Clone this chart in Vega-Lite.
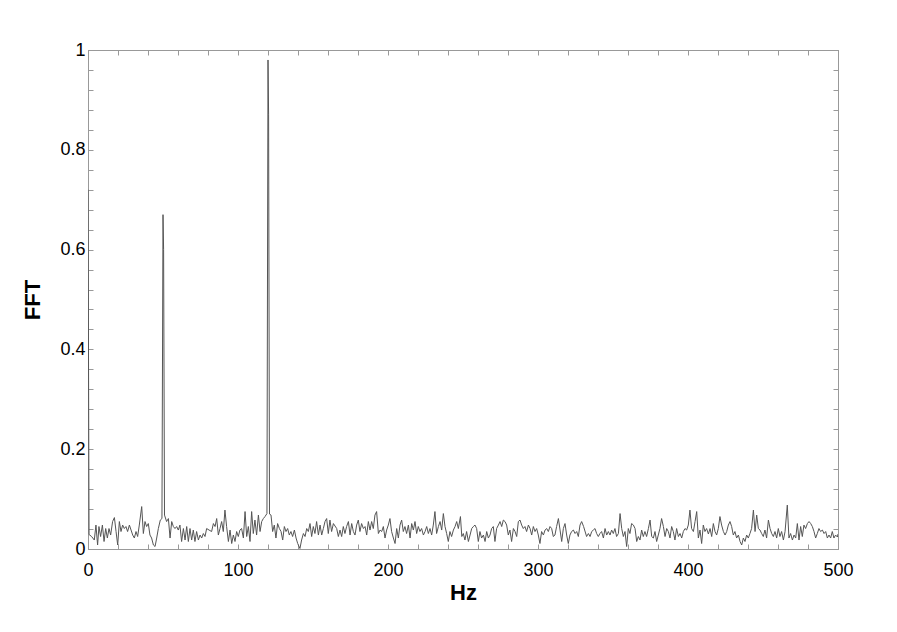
{
"$schema": "https://vega.github.io/schema/vega-lite/v6.json",
"width": 750,
"height": 499,
"autosize": "none",
"padding": {"left": 88, "top": 50, "right": 59, "bottom": 83},
"background": "white",
"config": {"view": {"stroke": "#999999", "strokeWidth": 1}, "font": "Liberation Sans"},
"data": {"values": [
{"f":0,"a":0.72},{"f":0.7,"a":0.029},{"f":2.4,"a":0.025},{"f":4.2,"a":0.018},{"f":5.3,"a":0.048},{"f":6.4,"a":0.008},{"f":7.3,"a":0.045},{"f":8.4,"a":0.025},{"f":9.6,"a":0.048},{"f":10.7,"a":0.015},{"f":11.8,"a":0.041},{"f":12.9,"a":0.022},{"f":14,"a":0.041},{"f":15.1,"a":0.028},{"f":16.4,"a":0.055},{"f":17.6,"a":0.063},{"f":18.7,"a":0.035},{"f":19.8,"a":0.008},{"f":20.9,"a":0.055},{"f":22,"a":0.035},{"f":23.1,"a":0.048},{"f":24.2,"a":0.041},{"f":25.3,"a":0.045},{"f":26.4,"a":0.035},{"f":27.6,"a":0.048},{"f":28.7,"a":0.038},{"f":29.8,"a":0.028},{"f":30.9,"a":0.022},{"f":32,"a":0.035},{"f":33.1,"a":0.025},{"f":34.2,"a":0.048},{"f":35.8,"a":0.085},{"f":36.9,"a":0.031},{"f":38,"a":0.055},{"f":39.1,"a":0.045},{"f":40.2,"a":0.051},{"f":41.3,"a":0.028},{"f":42.4,"a":0.022},{"f":43.6,"a":0.008},{"f":44.7,"a":0.005},{"f":45.8,"a":0.022},{"f":46.9,"a":0.041},{"f":48.2,"a":0.058},{"f":49.3,"a":0.061},{"f":50,"a":0.67},{"f":50.4,"a":0.6},{"f":51,"a":0.068},{"f":52.4,"a":0.055},{"f":53.6,"a":0.061},{"f":54.7,"a":0.022},{"f":55.8,"a":0.055},{"f":56.9,"a":0.045},{"f":58,"a":0.041},{"f":59.1,"a":0.045},{"f":60.2,"a":0.038},{"f":61.3,"a":0.048},{"f":62.4,"a":0.015},{"f":63.6,"a":0.041},{"f":64.7,"a":0.018},{"f":65.8,"a":0.045},{"f":66.9,"a":0.015},{"f":68,"a":0.041},{"f":69.1,"a":0.018},{"f":70.2,"a":0.038},{"f":71.3,"a":0.015},{"f":72.4,"a":0.035},{"f":73.6,"a":0.018},{"f":74.7,"a":0.028},{"f":75.8,"a":0.022},{"f":76.9,"a":0.031},{"f":78,"a":0.025},{"f":79.1,"a":0.041},{"f":80.7,"a":0.038},
{"f":82.4,"a":0.035},{"f":83.6,"a":0.051},{"f":84.7,"a":0.045},{"f":85.8,"a":0.061},{"f":86.9,"a":0.028},{"f":88,"a":0.041},{"f":89.1,"a":0.055},{"f":90.2,"a":0.035},{"f":91.3,"a":0.078},{"f":92.4,"a":0.045},{"f":93.6,"a":0.015},{"f":94.7,"a":0.038},{"f":95.8,"a":0.011},{"f":96.9,"a":0.028},{"f":98,"a":0.015},{"f":99.1,"a":0.035},{"f":100.2,"a":0.025},{"f":101.3,"a":0.038},{"f":102.4,"a":0.041},{"f":103.6,"a":0.022},{"f":104.7,"a":0.075},{"f":105.8,"a":0.025},{"f":106.9,"a":0.045},{"f":108,"a":0.015},{"f":109.1,"a":0.075},{"f":110.2,"a":0.031},{"f":111.3,"a":0.058},{"f":112.4,"a":0.028},{"f":113.6,"a":0.068},{"f":114.7,"a":0.035},{"f":115.8,"a":0.055},{"f":116.9,"a":0.061},{"f":118,"a":0.065},{"f":119.3,"a":0.071},{"f":120,"a":0.98},{"f":120.4,"a":0.87},{"f":121,"a":0.07},{"f":122,"a":0.068},{"f":123.1,"a":0.035},{"f":124.2,"a":0.048},{"f":125.3,"a":0.022},{"f":126.4,"a":0.051},{"f":127.6,"a":0.041},{"f":128.7,"a":0.035},{"f":129.8,"a":0.018},{"f":130.9,"a":0.045},{"f":132,"a":0.035},{"f":133.1,"a":0.041},{"f":134.2,"a":0.028},{"f":135.3,"a":0.035},{"f":136.4,"a":0.025},{"f":137.6,"a":0.038},{"f":138.7,"a":0.022},{"f":139.8,"a":0.011},{"f":141.3,"a":0.001},{"f":142.4,"a":0.018},{"f":143.6,"a":0.031},{"f":144.7,"a":0.025},{"f":145.8,"a":0.041},{"f":146.9,"a":0.035},{"f":148,"a":0.051},{"f":149.1,"a":0.025},{"f":150.2,"a":0.045},{"f":151.3,"a":0.031},{"f":152.4,"a":0.055},{"f":153.6,"a":0.028},{"f":154.7,"a":0.048},{"f":155.8,"a":0.028},{"f":156.9,"a":0.041},{"f":158,"a":0.055},{"f":159.1,"a":0.061},{"f":160.2,"a":0.031},{"f":161.3,"a":0.058},{"f":162.4,"a":0.035},{"f":163.6,"a":0.051},
{"f":165.8,"a":0.041},{"f":166.9,"a":0.025},{"f":168,"a":0.038},{"f":169.1,"a":0.025},{"f":170.2,"a":0.045},{"f":171.3,"a":0.031},{"f":172.4,"a":0.045},{"f":173.6,"a":0.055},{"f":174.7,"a":0.028},{"f":175.8,"a":0.051},{"f":176.9,"a":0.035},{"f":178,"a":0.028},{"f":179.1,"a":0.048},{"f":180.2,"a":0.058},{"f":181.3,"a":0.035},{"f":182.4,"a":0.051},{"f":183.6,"a":0.041},{"f":184.7,"a":0.045},{"f":185.8,"a":0.028},{"f":186.9,"a":0.055},{"f":188,"a":0.038},{"f":189.1,"a":0.055},{"f":190.2,"a":0.041},{"f":191.3,"a":0.068},{"f":192.4,"a":0.075},{"f":193.6,"a":0.031},{"f":194.7,"a":0.038},{"f":195.8,"a":0.035},{"f":196.9,"a":0.045},{"f":198,"a":0.022},{"f":199.1,"a":0.038},{"f":200.2,"a":0.048},{"f":201.3,"a":0.061},{"f":202.4,"a":0.035},{"f":203.6,"a":0.022},{"f":204.7,"a":0.011},{"f":205.8,"a":0.041},{"f":206.9,"a":0.022},{"f":208,"a":0.048},{"f":209.1,"a":0.058},{"f":210.2,"a":0.035},{"f":211.3,"a":0.045},{"f":212.4,"a":0.031},{"f":213.6,"a":0.048},{"f":214.7,"a":0.022},{"f":215.8,"a":0.051},{"f":216.9,"a":0.038},{"f":218,"a":0.055},{"f":219.1,"a":0.031},{"f":220.2,"a":0.045},{"f":221.3,"a":0.035},{"f":222.4,"a":0.041},{"f":223.6,"a":0.028},{"f":224.7,"a":0.035},{"f":225.8,"a":0.045},{"f":226.9,"a":0.031},{"f":228,"a":0.041},{"f":229.1,"a":0.028},{"f":230.2,"a":0.048},{"f":231.3,"a":0.075},{"f":232.4,"a":0.031},{"f":233.6,"a":0.045},{"f":234.7,"a":0.055},{"f":235.8,"a":0.038},{"f":236.9,"a":0.071},{"f":238,"a":0.045},{"f":239.1,"a":0.031},{"f":240.2,"a":0.015},{"f":241.3,"a":0.035},{"f":242.4,"a":0.025},{"f":243.6,"a":0.038},{"f":244.7,"a":0.045},{"f":245.8,"a":0.055},{"f":246.9,"a":0.041},
{"f":248.3,"a":0.065},{"f":249.2,"a":0.025},{"f":250.2,"a":0.031},{"f":251.3,"a":0.018},{"f":252.4,"a":0.035},{"f":253.6,"a":0.015},{"f":254.7,"a":0.028},{"f":255.8,"a":0.041},{"f":256.9,"a":0.045},{"f":258,"a":0.048},{"f":259.1,"a":0.041},{"f":260.2,"a":0.015},{"f":261.3,"a":0.035},{"f":262.4,"a":0.022},{"f":263.6,"a":0.028},{"f":264.7,"a":0.015},{"f":265.8,"a":0.035},{"f":266.9,"a":0.022},{"f":268,"a":0.028},{"f":269.1,"a":0.041},{"f":270.2,"a":0.045},{"f":271.3,"a":0.015},{"f":272.4,"a":0.041},{"f":273.6,"a":0.048},{"f":274.7,"a":0.055},{"f":275.8,"a":0.045},{"f":276.9,"a":0.058},{"f":278,"a":0.055},{"f":279.1,"a":0.048},{"f":280.2,"a":0.028},{"f":281.3,"a":0.038},{"f":282.4,"a":0.015},{"f":283.6,"a":0.041},{"f":284.7,"a":0.035},{"f":285.8,"a":0.025},{"f":286.9,"a":0.055},{"f":288,"a":0.058},{"f":289.1,"a":0.048},{"f":290.2,"a":0.041},{"f":291.3,"a":0.045},{"f":292.4,"a":0.035},{"f":293.6,"a":0.048},{"f":294.7,"a":0.041},{"f":295.8,"a":0.028},{"f":296.9,"a":0.045},{"f":298,"a":0.035},{"f":299.1,"a":0.041},{"f":300.2,"a":0.028},{"f":301.3,"a":0.011},{"f":302.4,"a":0.035},{"f":303.6,"a":0.028},{"f":304.7,"a":0.038},{"f":305.8,"a":0.041},{"f":306.9,"a":0.035},{"f":308,"a":0.045},{"f":309.1,"a":0.041},{"f":310.2,"a":0.025},{"f":311.3,"a":0.028},{"f":312.4,"a":0.045},{"f":313.6,"a":0.061},{"f":314.7,"a":0.038},{"f":315.8,"a":0.015},{"f":316.9,"a":0.041},{"f":318,"a":0.051},{"f":319.1,"a":0.028},{"f":320.2,"a":0.011},{"f":321.3,"a":0.028},{"f":322.4,"a":0.035},{"f":323.6,"a":0.038},{"f":324.7,"a":0.031},{"f":325.8,"a":0.035},{"f":326.9,"a":0.025},{"f":328,"a":0.048},{"f":329.1,"a":0.055},
{"f":330.4,"a":0.045},{"f":332.4,"a":0.025},{"f":333.6,"a":0.031},{"f":334.7,"a":0.025},{"f":335.8,"a":0.035},{"f":336.9,"a":0.038},{"f":338,"a":0.041},{"f":339.1,"a":0.031},{"f":340.2,"a":0.025},{"f":341.3,"a":0.031},{"f":342.4,"a":0.035},{"f":343.6,"a":0.022},{"f":344.7,"a":0.041},{"f":345.8,"a":0.028},{"f":346.9,"a":0.035},{"f":348,"a":0.028},{"f":349.1,"a":0.038},{"f":350.2,"a":0.031},{"f":351.3,"a":0.041},{"f":352.4,"a":0.025},{"f":353.6,"a":0.031},{"f":354.7,"a":0.071},{"f":355.8,"a":0.041},{"f":356.9,"a":0.025},{"f":358,"a":0.035},{"f":359.1,"a":0.005},{"f":360.2,"a":0.041},{"f":361.3,"a":0.031},{"f":362.4,"a":0.051},{"f":363.6,"a":0.048},{"f":364.7,"a":0.041},{"f":365.8,"a":0.015},{"f":366.9,"a":0.025},{"f":368,"a":0.018},{"f":369.1,"a":0.038},{"f":370.2,"a":0.025},{"f":371.3,"a":0.035},{"f":372.4,"a":0.025},{"f":373.6,"a":0.041},{"f":374.7,"a":0.058},{"f":375.8,"a":0.025},{"f":376.9,"a":0.022},{"f":378,"a":0.035},{"f":379.1,"a":0.015},{"f":380.2,"a":0.028},{"f":381.3,"a":0.041},{"f":382.4,"a":0.061},{"f":383.6,"a":0.045},{"f":384.7,"a":0.025},{"f":385.8,"a":0.041},{"f":386.9,"a":0.035},{"f":388,"a":0.022},{"f":389.1,"a":0.045},{"f":390.2,"a":0.035},{"f":391.3,"a":0.018},{"f":392.4,"a":0.041},{"f":393.6,"a":0.025},{"f":394.7,"a":0.031},{"f":395.8,"a":0.022},{"f":396.9,"a":0.035},{"f":398,"a":0.041},{"f":399.1,"a":0.038},{"f":400.2,"a":0.048},{"f":401.3,"a":0.078},{"f":402.4,"a":0.041},{"f":403.6,"a":0.035},{"f":404.7,"a":0.055},{"f":405.8,"a":0.075},{"f":406.9,"a":0.022},{"f":408,"a":0.038},{"f":409.1,"a":0.011},{"f":410.2,"a":0.048},{"f":411.3,"a":0.035},{"f":412.4,"a":0.041},
{"f":413.6,"a":0.03},{"f":414.7,"a":0.041},{"f":415.8,"a":0.025},{"f":416.9,"a":0.051},{"f":418,"a":0.035},{"f":419.1,"a":0.028},{"f":420.2,"a":0.041},{"f":421.3,"a":0.065},{"f":422.4,"a":0.048},{"f":423.6,"a":0.035},{"f":424.7,"a":0.028},{"f":425.8,"a":0.035},{"f":426.9,"a":0.048},{"f":428,"a":0.055},{"f":429.1,"a":0.045},{"f":430.2,"a":0.028},{"f":431.3,"a":0.035},{"f":432.4,"a":0.022},{"f":433.6,"a":0.028},{"f":434.7,"a":0.015},{"f":435.8,"a":0.008},{"f":436.9,"a":0.022},{"f":438,"a":0.015},{"f":439.1,"a":0.028},{"f":440.2,"a":0.022},{"f":441.3,"a":0.031},{"f":442.4,"a":0.041},{"f":443.6,"a":0.078},{"f":444.7,"a":0.035},{"f":445.8,"a":0.068},{"f":446.9,"a":0.041},{"f":448,"a":0.038},{"f":449.1,"a":0.031},{"f":450.2,"a":0.025},{"f":451.3,"a":0.038},{"f":452.4,"a":0.022},{"f":453.6,"a":0.058},{"f":454.7,"a":0.041},{"f":455.8,"a":0.031},{"f":456.9,"a":0.025},{"f":458,"a":0.035},{"f":459.1,"a":0.022},{"f":460.2,"a":0.041},{"f":461.3,"a":0.025},{"f":462.4,"a":0.035},{"f":463.6,"a":0.018},{"f":464.7,"a":0.035},{"f":466.2,"a":0.088},{"f":467.3,"a":0.022},{"f":468.4,"a":0.031},{"f":469.6,"a":0.018},{"f":470.7,"a":0.028},{"f":471.8,"a":0.022},{"f":472.9,"a":0.051},{"f":474,"a":0.018},{"f":475.1,"a":0.045},{"f":476.2,"a":0.025},{"f":477.3,"a":0.048},{"f":478.4,"a":0.041},{"f":479.6,"a":0.051},{"f":480.7,"a":0.055},{"f":481.8,"a":0.051},{"f":482.9,"a":0.045},{"f":484,"a":0.035},{"f":485.1,"a":0.022},{"f":486.2,"a":0.031},{"f":487.3,"a":0.041},{"f":488.4,"a":0.035},{"f":489.6,"a":0.038},{"f":490.7,"a":0.031},{"f":491.8,"a":0.035},{"f":492.9,"a":0.022},{"f":494,"a":0.028},{"f":495.1,"a":0.022},{"f":496.2,"a":0.035},{"f":497.3,"a":0.022},{"f":498.4,"a":0.028},{"f":499.6,"a":0.024},{"f":500,"a":0.03}
]},
"layer": [
{
"mark": {"type": "line", "stroke": "#555555", "strokeWidth": 1, "clip": true},
"encoding": {
"x": {"field": "f", "type": "quantitative", "scale": {"domain": [0, 500], "nice": false, "zero": false},
"axis": {"orient": "bottom", "title": "Hz", "values": [0,20,40,60,80,100,120,140,160,180,200,220,240,260,280,300,320,340,360,380,400,420,440,460,480,500],
"labelExpr": "datum.value % 100 === 0 ? datum.label : ''", "labelFlush": false, "labelOverlap": false, "grid": false,
"domainColor": "#999999", "tickColor": "#999999", "tickSize": -5, "labelPadding": 17, "labelFontSize": 18, "labelColor": "black", "labelFont": "Liberation Sans",
"titleFontSize": 22, "titleFont": "Liberation Sans", "titleFontWeight": "bold", "titleColor": "black", "titlePadding": 3}},
"y": {"field": "a", "type": "quantitative", "scale": {"domain": [0, 1], "nice": false},
"axis": {"orient": "left", "title": "FFT", "values": [0,0.04,0.08,0.12,0.16,0.2,0.24,0.28,0.32,0.36,0.4,0.44,0.48,0.52,0.56,0.6,0.64,0.68,0.72,0.76,0.8,0.84,0.88,0.92,0.96,1],
"labelExpr": "round(datum.value*100) % 20 === 0 ? format(datum.value, '.1~f') : ''", "labelFlush": false, "labelOverlap": false, "grid": false,
"domainColor": "#999999", "tickColor": "#999999", "tickSize": -5, "labelPadding": 8, "labelFontSize": 18, "labelColor": "black", "labelFont": "Liberation Sans",
"titleFontSize": 22, "titleFont": "Liberation Sans", "titleFontWeight": "bold", "titleColor": "black", "titlePadding": 15}}
}
},
{
"mark": {"type": "line", "strokeOpacity": 0},
"encoding": {
"x": {"field": "f", "type": "quantitative", "axis": {"orient": "top", "title": null, "labels": false, "values": [0,20,40,60,80,100,120,140,160,180,200,220,240,260,280,300,320,340,360,380,400,420,440,460,480,500], "grid": false, "domainColor": "#999999", "tickColor": "#999999", "tickSize": -5}},
"y": {"field": "a", "type": "quantitative", "axis": {"orient": "right", "title": null, "labels": false, "values": [0,0.04,0.08,0.12,0.16,0.2,0.24,0.28,0.32,0.36,0.4,0.44,0.48,0.52,0.56,0.6,0.64,0.68,0.72,0.76,0.8,0.84,0.88,0.92,0.96,1], "grid": false, "domainColor": "#999999", "tickColor": "#999999", "tickSize": -5}}
}
}
],
"resolve": {"axis": {"x": "independent", "y": "independent"}}
}
